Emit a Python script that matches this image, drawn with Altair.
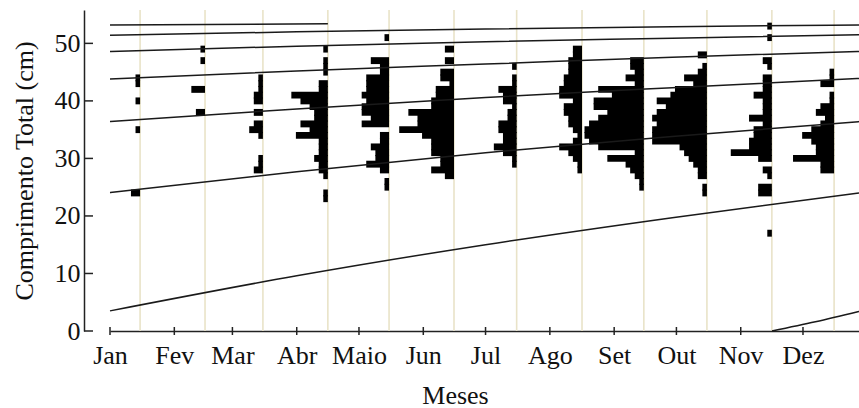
import altair as alt
import pandas as pd

# ---------------- data ----------------
month_labels = ["Jan", "Fev", "Mar", "Abr", "Maio", "Jun", "Jul", "Ago", "Set", "Out", "Nov", "Dez"]
month_start_days = [0, 31, 59, 90, 120, 151, 181, 212, 243, 273, 304, 334]
sample_days = [14.5, 45.8, 73.7, 105, 134.5, 165.8, 196, 227.5, 257.3, 287.7, 319, 349]
y_ticks = [0, 10, 20, 30, 40, 50]

# length class (cm) -> number of fish, one sample per month
hist_jan = {44: 1, 43: 1, 40: 1, 35: 1, 24: 2}
hist_fev = {49: 1, 47: 1, 42: 3, 38: 2}
hist_mar = {44: 1, 43: 1, 42: 1, 41: 2, 40: 2, 38: 2, 36: 2, 35: 3, 34: 1, 30: 1, 29: 1, 28: 2}
hist_abr = {49: 1, 47: 1, 46: 1, 45: 1, 43: 2, 42: 2, 41: 8, 40: 6, 39: 4, 38: 3, 37: 3, 36: 6,
            35: 4, 34: 7, 33: 2, 32: 2, 31: 2, 30: 3, 29: 2, 28: 2, 27: 1, 24: 1, 23: 1}
hist_mai = {51: 1, 47: 4, 46: 2, 45: 2, 44: 5, 43: 5, 42: 5, 41: 6, 40: 5, 39: 6, 38: 6, 37: 4,
            36: 6, 34: 2, 33: 2, 32: 4, 31: 3, 30: 3, 29: 5, 28: 2, 26: 1, 25: 1}
hist_jun = {49: 2, 47: 2, 45: 3, 44: 3, 43: 1, 42: 4, 41: 4, 40: 5, 39: 5, 38: 10, 37: 8, 36: 8,
            35: 12, 34: 7, 33: 5, 32: 5, 31: 5, 30: 3, 29: 3, 28: 5, 27: 2}
hist_jul = {46: 1, 44: 1, 43: 1, 42: 4, 41: 3, 40: 3, 39: 1, 38: 2, 37: 2, 36: 4, 35: 4, 34: 3,
            33: 3, 32: 5, 31: 3, 30: 1, 29: 1}
hist_ago = {49: 2, 48: 2, 47: 3, 46: 3, 45: 3, 44: 4, 43: 4, 42: 5, 41: 5, 40: 2, 39: 4, 38: 4,
            37: 3, 36: 3, 35: 2, 34: 1, 33: 2, 32: 5, 31: 3, 30: 2, 29: 1, 28: 1}
hist_set = {47: 3, 46: 3, 45: 2, 44: 4, 43: 2, 42: 10, 41: 7, 40: 11, 39: 11, 38: 8, 37: 10,
            36: 12, 35: 13, 34: 13, 33: 12, 32: 10, 31: 2, 30: 8, 29: 4, 28: 3, 27: 2, 26: 1, 25: 1}
hist_out = {48: 2, 46: 1, 45: 2, 44: 5, 43: 3, 42: 7, 41: 8, 40: 11, 39: 9, 38: 11, 37: 12,
            36: 11, 35: 12, 34: 12, 33: 12, 32: 6, 31: 5, 30: 4, 29: 3, 28: 2, 27: 2, 25: 1, 24: 1}
hist_nov = {53: 1, 51: 1, 47: 2, 46: 1, 44: 2, 43: 2, 42: 2, 41: 4, 40: 2, 39: 2, 38: 2, 37: 5,
            36: 2, 35: 4, 34: 4, 33: 5, 32: 5, 31: 9, 30: 3, 28: 2, 27: 1, 25: 3, 24: 3, 17: 1}
hist_dez = {45: 1, 44: 1, 43: 3, 41: 1, 40: 1, 39: 3, 38: 4, 37: 2, 36: 3, 35: 5, 34: 7, 33: 5,
            32: 4, 31: 4, 30: 9, 29: 3, 28: 3}
monthly_hists = [hist_jan, hist_fev, hist_mar, hist_abr, hist_mai, hist_jun,
                 hist_jul, hist_ago, hist_set, hist_out, hist_nov, hist_dez]

# growth curves (day of year -> length, cm), one per cohort
curve_days = [0, 90, 181, 271, 361]
cohort_0 = [3.5, 9.6, 15.0, 19.7, 24.0]
cohort_1 = [24.05, 27.7, 31.0, 33.8, 36.4]
cohort_2 = [36.4, 38.6, 40.6, 42.3, 43.9]
cohort_3 = [43.8, 45.2, 46.4, 47.6, 48.6]
cohort_4 = [48.6, 49.5, 50.3, 50.9, 51.5]
cohort_5 = [51.4, 52.0, 52.5, 52.9, 53.2]
cohort_6_days = [0, 105]
cohort_6 = [53.2, 53.4]
recruit_days = [319, 340, 361]
recruit = [0.0, 1.6, 3.4]

# ---------------- styling constants ----------------
DAYS_PER_FISH = 2.2          # horizontal size of one fish in a histogram bar
BIN_HALF = 0.6               # half height of a length class (slight overlap, no seams)
FONT = "Liberation Serif"
FS = 26

# ---------------- tables ----------------
rows = []
for day, hist in zip(sample_days, monthly_hists):
    for length, count in hist.items():
        rows.append({"day": day, "length": length, "count": count})
hist_df = pd.DataFrame(rows)

curve_rows = []
for name, vals in [("c0", cohort_0), ("c1", cohort_1), ("c2", cohort_2),
                   ("c3", cohort_3), ("c4", cohort_4), ("c5", cohort_5)]:
    for d, v in zip(curve_days, vals):
        curve_rows.append({"cohort": name, "day": d, "len": v})
for d, v in zip(cohort_6_days, cohort_6):
    curve_rows.append({"cohort": "c6", "day": d, "len": v})
for d, v in zip(recruit_days, recruit):
    curve_rows.append({"cohort": "r", "day": d, "len": v})
curve_df = pd.DataFrame(curve_rows)

samples_df = pd.DataFrame({"day": sample_days})
xtick_df = pd.DataFrame({"day": month_start_days})
ytick_df = pd.DataFrame({"v": y_ticks})

xscale = alt.Scale(domain=[0, 361], nice=False, zero=False)
yscale = alt.Scale(domain=[0, 55.8], nice=False, zero=False)

label_expr = ("[" + ",".join("'%s'" % m for m in month_labels) + "][indexof(["
              + ",".join(str(d) for d in month_start_days) + "], datum.value)]")

x_axis = alt.Axis(values=month_start_days, labelExpr=label_expr, ticks=False, grid=False,
                  domainColor="#222222", domainWidth=1.5, labelFont=FONT, labelFontSize=FS,
                  labelColor="#111111", labelPadding=11, labelFlush=False, labelOverlap=False,
                  title="Meses", titleFont=FONT, titleFontSize=FS, titleFontWeight="normal",
                  titleColor="#111111", titleX=345, titleY=72, titleAlign="center",
                  titleBaseline="alphabetic")
y_axis = alt.Axis(values=y_ticks, ticks=False, grid=False, offset=26,
                  domainColor="#222222", domainWidth=1.5, labelFont=FONT, labelFontSize=FS,
                  labelColor="#111111", labelPadding=4,
                  title="Comprimento Total (cm)", titleFont=FONT, titleFontSize=FS,
                  titleFontWeight="normal", titleColor="#111111", titleX=-60, titleY=160.5,
                  titleAngle=270, titleAlign="center", titleBaseline="middle")

sample_lines = alt.Chart(samples_df).mark_rule(color="#E9E3C8", strokeWidth=1.6).encode(
    x=alt.X("day:Q", scale=xscale, axis=x_axis)
)

bars = alt.Chart(hist_df).transform_calculate(
    x_left="datum.day - datum.count * %f" % DAYS_PER_FISH,
    y_lo="datum.length - %f" % BIN_HALF,
    y_hi="datum.length + %f" % BIN_HALF,
).mark_rect(color="black", strokeWidth=0).encode(
    x=alt.X("x_left:Q", scale=xscale, axis=x_axis),
    x2="day:Q",
    y=alt.Y("y_lo:Q", scale=yscale, axis=y_axis),
    y2="y_hi:Q",
)

curves = alt.Chart(curve_df).mark_line(color="#1a1a1a", strokeWidth=1.5,
                                       interpolate="monotone").encode(
    x=alt.X("day:Q", scale=xscale, axis=x_axis),
    y=alt.Y("len:Q", scale=yscale, axis=y_axis),
    detail="cohort:N",
)

ytick_marks = alt.Chart(ytick_df).mark_rule(color="#222222", strokeWidth=1.5).encode(
    y=alt.Y("v:Q", scale=yscale, axis=y_axis),
    x=alt.value(-26), x2=alt.value(-17),
)
xtick_marks = alt.Chart(xtick_df).mark_rule(color="#222222", strokeWidth=1.5).encode(
    x=alt.X("day:Q", scale=xscale, axis=x_axis),
    y=alt.value(317), y2=alt.value(325),
)

chart = alt.layer(sample_lines, bars, curves, ytick_marks, xtick_marks).properties(
    width=749, height=321,
    padding={"left": 110, "top": 10, "right": 0, "bottom": 77},
    autosize=alt.AutoSizeParams(type="none"),
    background="white",
).configure_view(stroke=None)

chart.save("out.html", embed_options={"renderer": "svg", "actions": False})
